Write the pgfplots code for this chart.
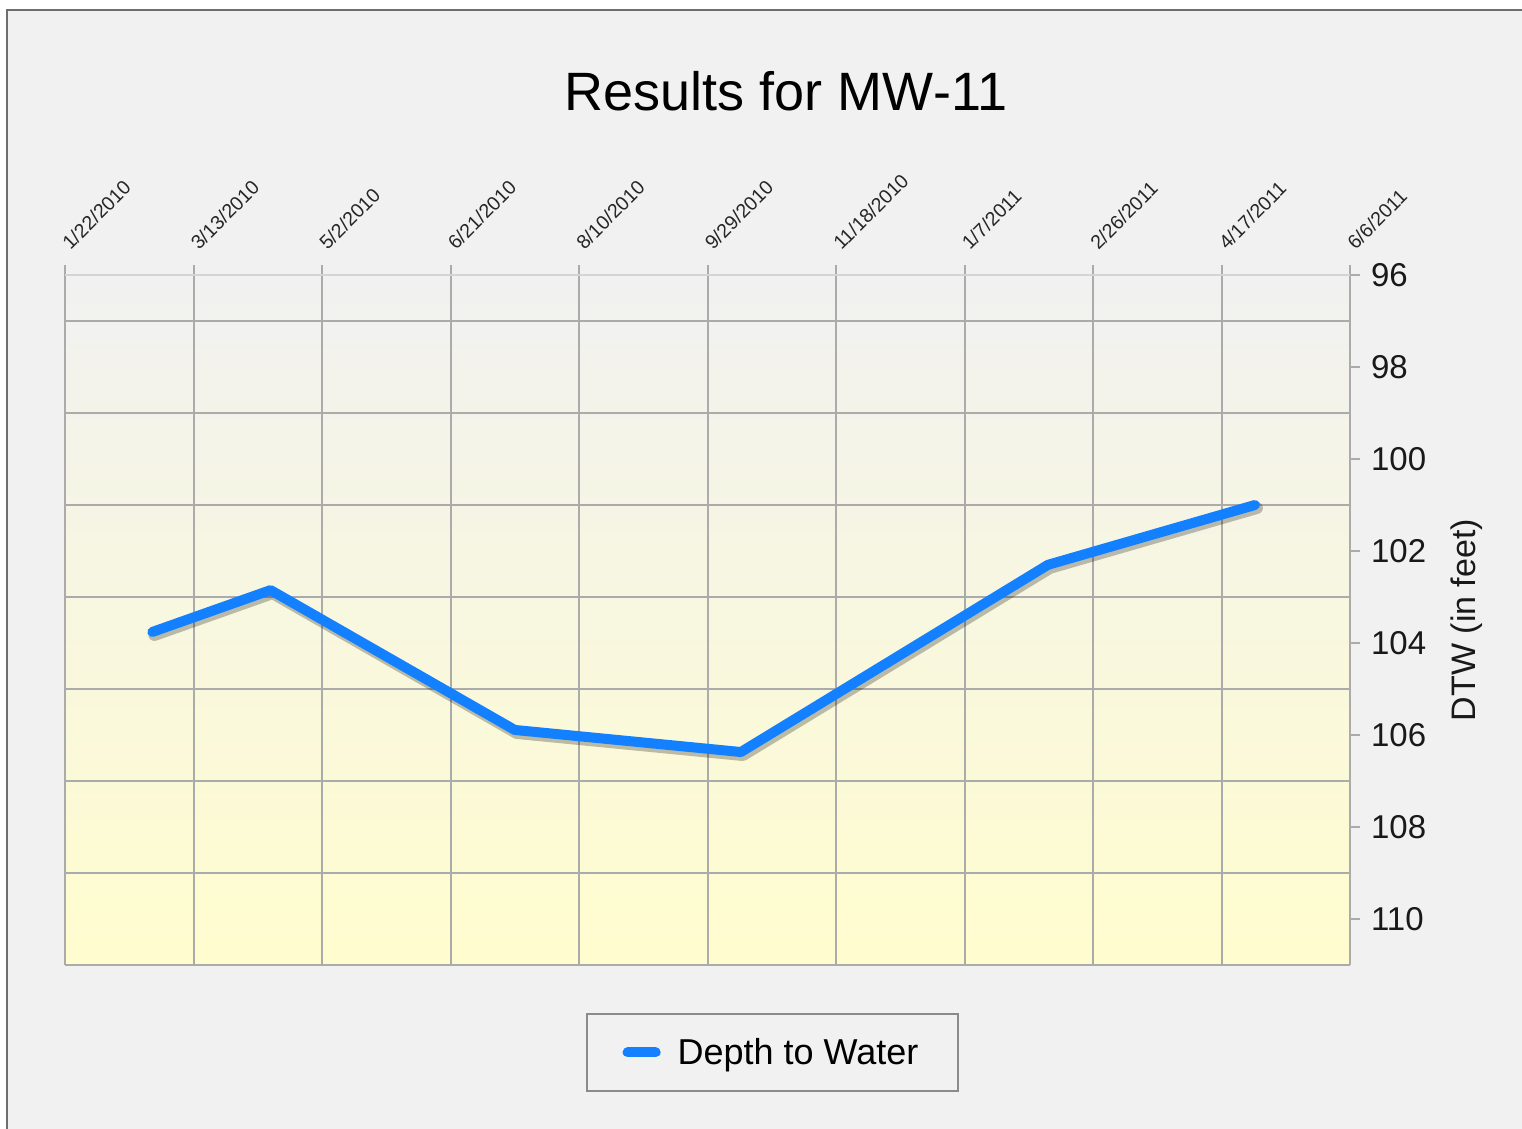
\documentclass[border=0pt]{standalone}
\usepackage{fontspec}
\setmainfont{Liberation Sans}
\usepackage{pgfplots}
\pgfplotsset{compat=1.18}
\definecolor{bgc}{HTML}{F1F1F1}
\definecolor{framec}{HTML}{6E6E6E}
\definecolor{gridc}{HTML}{ABABAB}
\definecolor{topc}{HTML}{D4D4D4}
\definecolor{yel}{HTML}{FFFDCE}
\definecolor{linec}{RGB}{18,128,255}
\begin{document}
\begin{tikzpicture}
% background
\fill[white] (-32.5pt,-82pt) rectangle (728.5pt,482.5pt);
\fill[bgc] (-29pt,-82pt) rectangle (728.5pt,477.5pt);
\draw[framec, line width=1.2pt] (-29pt,-82pt) -- (-29pt,477.5pt) -- (728.5pt,477.5pt);
\begin{axis}[
  scale only axis,
  width=642.5pt, height=345pt,
  xmin=0, xmax=500, ymin=96, ymax=111,
  y dir=reverse,
  axis background/.style={shade, top color=bgc, bottom color=yel},
  axis line style={draw=none},
  xtick={0,50,...,500},
  xticklabels={1/22/2010,3/13/2010,5/2/2010,6/21/2010,8/10/2010,9/29/2010,11/18/2010,1/7/2011,2/26/2011,4/17/2011,6/6/2011},
  xtick pos=upper, xticklabel pos=upper,
  ytick={96,98,...,110},
  minor ytick={97,99,...,111},
  ytick pos=right, yticklabel pos=right,
  tick align=outside,
  major tick length=5pt,
  minor tick length=0pt,
  tick style={gridc, line width=1pt},
  xmajorgrids=true, yminorgrids=true, ymajorgrids=false,
  major grid style={gridc, line width=1pt},
  minor grid style={gridc, line width=1pt},
  /pgf/number format/assume math mode=true,
  xticklabel style={rotate=45, anchor=south west, font=\fontsize{9.8}{11}\selectfont, text=black!85, inner sep=1pt, xshift=5.8pt, yshift=1.8pt},
  yticklabel style={font=\fontsize{16.5}{19}\selectfont, text=black!90, xshift=2pt},
  ylabel={DTW (in feet)},
  ylabel style={at={(axis description cs:1.0905,0.5)}, anchor=center, font=\fontsize{17}{20}\selectfont, text=black!90},
  title={Results for MW-11},
  title style={at={(axis description cs:0.5611,1.2217)}, anchor=base, font=\fontsize{27}{30}\selectfont, text=black},
  legend style={at={(axis description cs:0.5506,-0.1268)}, anchor=center, draw=framec!80, line width=1pt, fill=bgc, font=\fontsize{18}{21}\selectfont, inner xsep=18pt, inner ysep=10pt},
  legend image code/.code={\draw[#1, line width=5pt, line cap=round] (0pt,0pt) -- (14pt,0pt); \path[draw=none] (-2.5pt,0pt) -- (23pt,0pt);},
  clip=false,
]
\addplot[forget plot, black, opacity=0.25, line width=6pt, line join=round, line cap=round, xshift=1pt, yshift=-1.5pt] coordinates {
(34,103.76) (80,102.85) (175,105.89) (263,106.37) (382.5,102.30) (463,101.0)};
\addplot[linec, line width=5pt, line join=round, line cap=round] coordinates {
(34,103.76) (80,102.85) (175,105.89) (263,106.37) (382.5,102.30) (463,101.0)};
\addlegendentry{Depth to Water}
\draw[gridc, line width=1pt] (axis cs:500,96) -- (axis cs:500,111);
\draw[topc, line width=1pt] (axis cs:0,96) -- (axis cs:500,96);
\end{axis}
\pgfresetboundingbox
\useasboundingbox (-32.5pt,-82pt) rectangle (728.5pt,482.5pt);
\end{tikzpicture}
\end{document}
